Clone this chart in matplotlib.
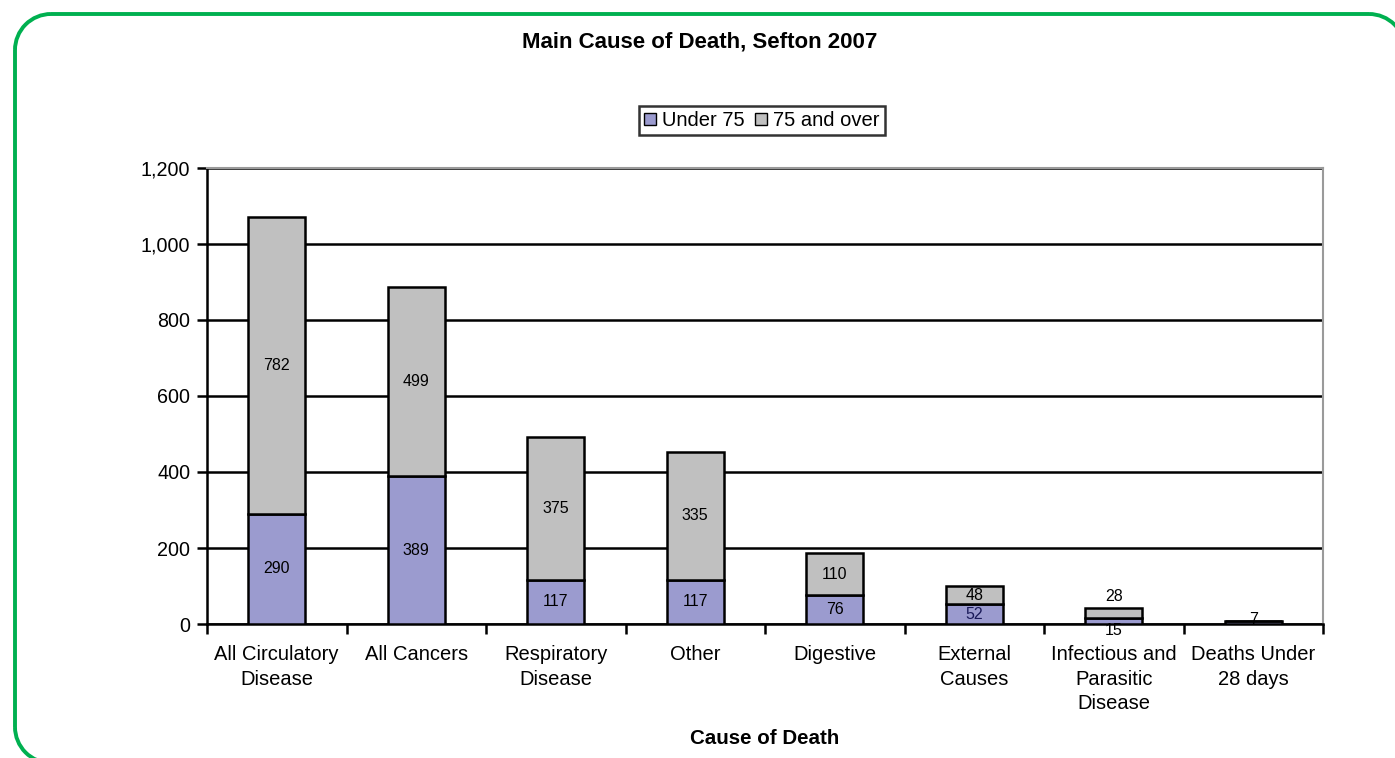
import matplotlib.pyplot as plt
import matplotlib.patches as mpatches
from matplotlib.ticker import FuncFormatter
import numpy as np

plt.rcParams['font.family'] = ['Liberation Sans', 'DejaVu Sans']

categories = ['All Circulatory\nDisease', 'All Cancers', 'Respiratory\nDisease', 'Other',
              'Digestive', 'External\nCauses', 'Infectious and\nParasitic\nDisease',
              'Deaths Under\n28 days']
under_75 = [290, 389, 117, 117, 76, 52, 15, 7]
over_75 = [782, 499, 375, 335, 110, 48, 28, 0]

col_under = '#9B9BCF'
col_over = '#C0C0C0'

W, H = 1395, 758
fig = plt.figure(figsize=(W / 100, H / 100), dpi=100)

# background axes in pixel units (y up), for the green rounded frame
bg = fig.add_axes([0, 0, 1, 1], zorder=-1)
bg.set_xlim(0, W)
bg.set_ylim(0, H)
bg.axis('off')
green = '#00B050'
lw = 2.8
r = 36
xl, xr, yt, yb = 15, 1405, H - 14, H - 763
bg.plot([xl + r, xr - r], [yt, yt], color=green, lw=lw, solid_capstyle='butt')
bg.plot([xl, xl], [yb + r, yt - r], color=green, lw=lw, solid_capstyle='butt')
bg.plot([xl + r, W + 10], [yb, yb], color=green, lw=lw, solid_capstyle='butt')
bg.plot([xr, xr], [0, yt - r], color=green, lw=lw, solid_capstyle='butt')
for cx, cy, a0 in [(xl + r, yt - r, 90), (xr - r, yt - r, 0), (xl + r, yb + r, 180)]:
    bg.add_patch(mpatches.Arc((cx, cy), 2 * r, 2 * r, theta1=a0, theta2=a0 + 90,
                              color=green, lw=lw))

ax = fig.add_axes([207 / W, 1 - 624 / H, (1323 - 207) / W, (624 - 168) / H])

x = np.arange(len(categories))
w = 0.41
ax.bar(x, under_75, w, color=col_under, edgecolor='black', linewidth=1.8, zorder=3)
ax.bar(x, over_75, w, bottom=under_75, color=col_over, edgecolor='black', linewidth=1.8, zorder=3)

# data labels
fs_lab = 11.5
for i in range(len(categories)):
    u, o = under_75[i], over_75[i]
    if i == 6:
        ax.text(x[i], u + o + 30, str(o), ha='center', va='center', fontsize=fs_lab)
        ax.text(x[i], -18, str(u), ha='center', va='center', fontsize=fs_lab)
    elif i == 7:
        ax.text(x[i], u + 4, str(u), ha='center', va='center', fontsize=fs_lab)
    else:
        ax.text(x[i], u / 2, str(u), ha='center', va='center', fontsize=fs_lab,
                color='#1a1a5a' if u < 60 else 'black')
        ax.text(x[i], u + o / 2, str(o), ha='center', va='center', fontsize=fs_lab)

ax.set_xlim(-0.5, len(categories) - 0.5)
ax.set_ylim(0, 1200)
ax.set_yticks(np.arange(0, 1201, 200))
ax.yaxis.set_major_formatter(FuncFormatter(lambda v, p: f'{int(v):,}'))
ax.yaxis.grid(True, color='black', linewidth=1.8, zorder=1)
ax.set_xticks(x)
ax.set_xticklabels(categories, fontsize=14.5, linespacing=1.38)
ax.set_xticks(np.arange(-0.5, len(categories), 1), minor=True)
ax.tick_params(axis='x', which='major', length=0, pad=15)
ax.tick_params(axis='x', which='minor', length=7, width=1.8, direction='out')
ax.tick_params(axis='y', length=7, width=1.8, labelsize=14.2, pad=5)

for s in ['left', 'bottom']:
    ax.spines[s].set_linewidth(1.8)
    ax.spines[s].set_color('black')
for s in ['top', 'right']:
    ax.spines[s].set_linewidth(1.5)
    ax.spines[s].set_color('#9a9a9a')

fig.text(765 / W, 1 - 738 / H, 'Cause of Death', ha='center', va='center',
         fontsize=14.8, fontweight='bold')
fig.text(700 / W, 1 - 42 / H, 'Main Cause of Death, Sefton 2007', ha='center', va='center',
         fontsize=16, fontweight='bold')

handles = [mpatches.Patch(facecolor=col_under, edgecolor='black', label='Under 75'),
           mpatches.Patch(facecolor=col_over, edgecolor='black', label='75 and over')]
leg = fig.legend(handles=handles, loc='center', bbox_to_anchor=(762 / W, 1 - 120.5 / H), ncol=2,
                 fontsize=14.5, frameon=True, fancybox=False, edgecolor='black',
                 handlelength=0.6, handleheight=0.6, handletextpad=0.3, columnspacing=0.5,
                 borderpad=0.25, borderaxespad=0)
leg.get_frame().set_linewidth(1.8)

fig.savefig('out.png', dpi=100)
